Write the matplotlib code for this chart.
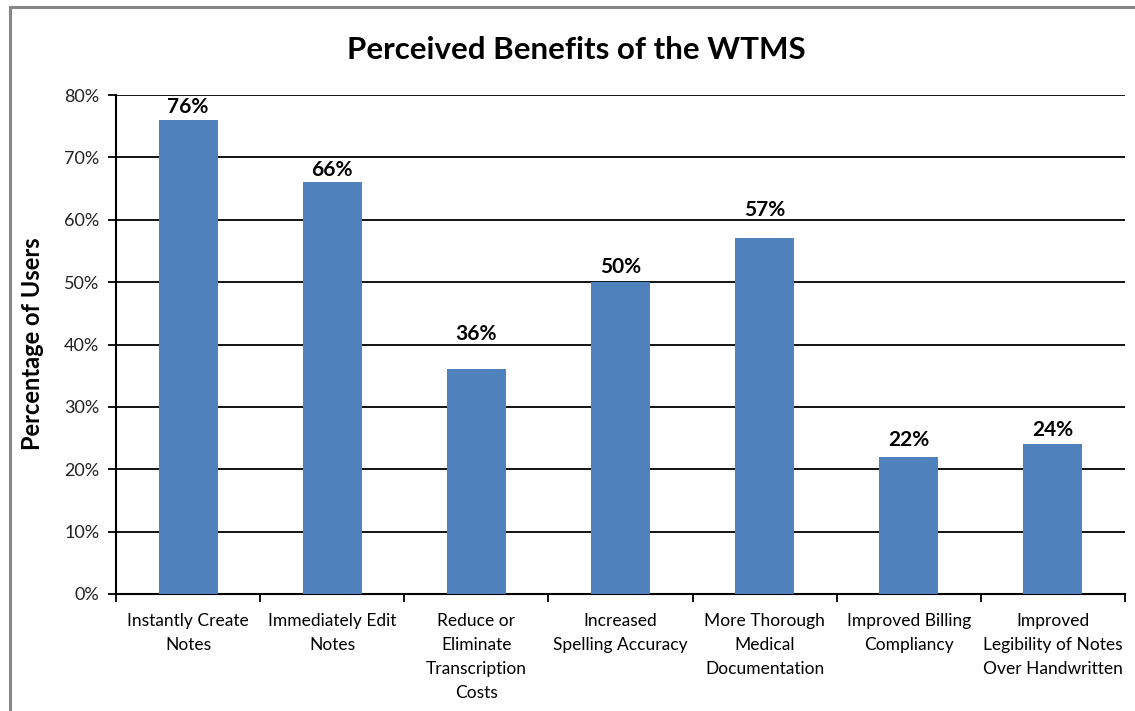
import matplotlib
matplotlib.use("Agg")
import matplotlib.pyplot as plt
from matplotlib.patches import Rectangle
from matplotlib.ticker import MultipleLocator, FuncFormatter

categories = [
    "Instantly Create\nNotes",
    "Immediately Edit\nNotes",
    "Reduce or\nEliminate\nTranscription\nCosts",
    "Increased\nSpelling Accuracy",
    "More Thorough\nMedical\nDocumentation",
    "Improved Billing\nCompliancy",
    "Improved\nLegibility of Notes\nOver Handwritten",
]
values = [76, 66, 36, 50, 57, 22, 24]
title = "Perceived Benefits of the WTMS"
ylabel = "Percentage of Users"

# style: vertical offset (points) of each data label above its bar
label_offsets = [0, 0, 16, 2, 11, 3, 1]

plt.rcParams['font.family'] = ['Lato', 'DejaVu Sans']

W, H = 1135, 711
fig = plt.figure(figsize=(W / 100, H / 100), dpi=100)
fig.patch.set_facecolor("white")

# outer chart border
fig.add_artist(Rectangle((9.5 / W, -0.01), 1.1, 1 - 6.5 / H + 0.01,
                         transform=fig.transFigure, fill=False,
                         edgecolor="#868686", linewidth=2.2))

left, right, bottom, top = 116, 1125, 594, 95
ax = fig.add_axes([left / W, (H - bottom) / H, (right - left) / W, (bottom - top) / H])

x = list(range(len(categories)))
ax.bar(x, values, width=0.41, color="#4F81BD", zorder=3)
ax.set_xlim(-0.5, len(categories) - 0.5)
ax.set_ylim(0, 80)

ax.yaxis.set_major_locator(MultipleLocator(10))
ax.yaxis.set_major_formatter(FuncFormatter(lambda v, p: f"{int(v)}%"))
ax.grid(axis="y", color="black", linewidth=1.3, zorder=0)
ax.set_axisbelow(True)

for s in ["top", "right"]:
    ax.spines[s].set_visible(False)
for s in ["left", "bottom"]:
    ax.spines[s].set_linewidth(1.5)
    ax.spines[s].set_color("black")

ax.set_xticks(x)
ax.set_xticklabels(categories, fontsize=12.5, linespacing=1.6, va="top")
ax.tick_params(axis="x", length=0, pad=14)
ax.set_xticks([i - 0.5 for i in range(len(categories) + 1)], minor=True)
ax.tick_params(axis="x", which="minor", length=6, width=1.3, direction="out")
ax.tick_params(axis="y", length=6, width=1.3, labelsize=13, pad=6)
for lbl in ax.get_yticklabels():
    lbl.set_color("#222222")

for xi, v, off in zip(x, values, label_offsets):
    ax.annotate(f"{v}%", (xi, v), xytext=(0, 2 + off), textcoords="offset points",
                ha="center", va="bottom", fontsize=15, fontweight="bold")

fig.text(33 / W, 1 - 344 / H, ylabel, rotation=90, ha="center", va="center",
         fontsize=17, fontweight="bold")
fig.text(576 / W, 1 - 50 / H, title, ha="center", va="center",
         fontsize=22.5, fontweight="bold")

fig.savefig("out.png", dpi=100, facecolor="white")
